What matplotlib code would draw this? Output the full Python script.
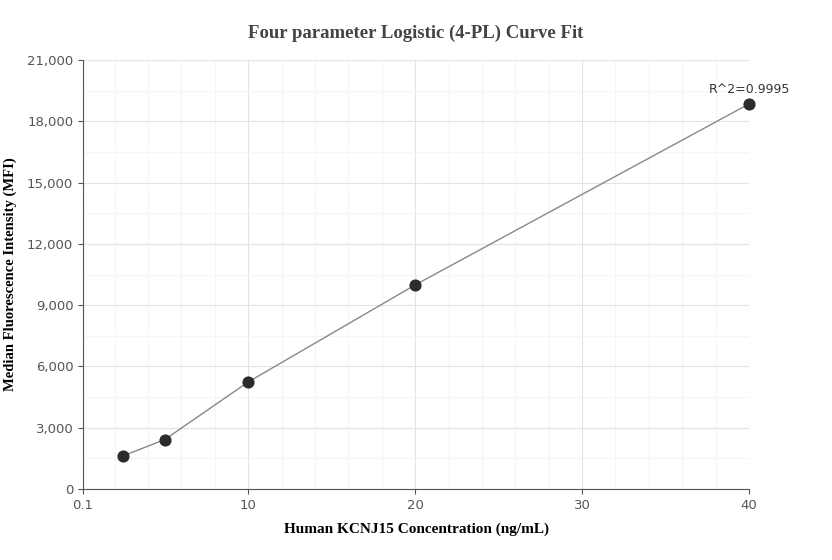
import matplotlib
matplotlib.use("Agg")
import matplotlib.pyplot as plt
from matplotlib.ticker import MultipleLocator, FixedLocator, FuncFormatter

conc = [2.5, 5, 10, 20, 40]
mfi = [1620, 2420, 5240, 9990, 18850]
xticks = [0.1, 10, 20, 30, 40]
xticklabels = ["0.1", "10", "20", "30", "40"]
r2_label = "R^2=0.9995"

fig = plt.figure(figsize=(8.32, 5.6), dpi=100)
ax = fig.add_axes([83/832, 71/560, 666/832, 429/560])
ax.set_xlim(0.1, 40)
ax.set_ylim(0, 21000)
ax.plot(conc, mfi, color="#888888", lw=1, zorder=2)
ax.scatter(conc, mfi, s=60, color="#2b2b2b", zorder=3, clip_on=False)
ax.annotate(r2_label, (conc[-1], mfi[-1]), xytext=(0, 6), textcoords="offset points",
            ha="center", va="bottom", fontsize=9, color="#333333")
ax.xaxis.set_major_locator(FixedLocator(xticks))
ax.set_xticklabels(xticklabels)
ax.xaxis.set_minor_locator(FixedLocator([x for x in range(2, 40, 2) if x % 10]))
ax.yaxis.set_major_locator(MultipleLocator(3000))
ax.yaxis.set_minor_locator(MultipleLocator(1500))
ax.yaxis.set_major_formatter(FuncFormatter(lambda v, p: f"{int(v):,}"))
ax.grid(which="major", color="#e3e3e3", lw=0.8)
ax.grid(which="minor", color="#f5f5f5", lw=0.8)
ax.set_axisbelow(True)
for s in ["top", "right"]:
    ax.spines[s].set_visible(False)
for s in ["left", "bottom"]:
    ax.spines[s].set_color("#555555")
ax.tick_params(which="both", colors="#555555", labelsize=9.5, labelcolor="#555555")
ax.tick_params(which="minor", length=0)
ax.set_xlabel("Human KCNJ15 Concentration (ng/mL)", family="Liberation Serif",
              fontweight="bold", fontsize=11, labelpad=8)
fig.text(10/832, 1 - 274/560, "Median Fluorescence Intensity (MFI)", family="Liberation Serif",
         fontweight="bold", fontsize=10.5, rotation=90, ha="center", va="center")
fig.text(416/832, 1 - 33/560, "Four parameter Logistic (4-PL) Curve Fit",
         family="Liberation Serif", fontweight="bold", fontsize=13.5,
         color="#444444", ha="center", va="center")
fig.savefig("out.png", dpi=100)
